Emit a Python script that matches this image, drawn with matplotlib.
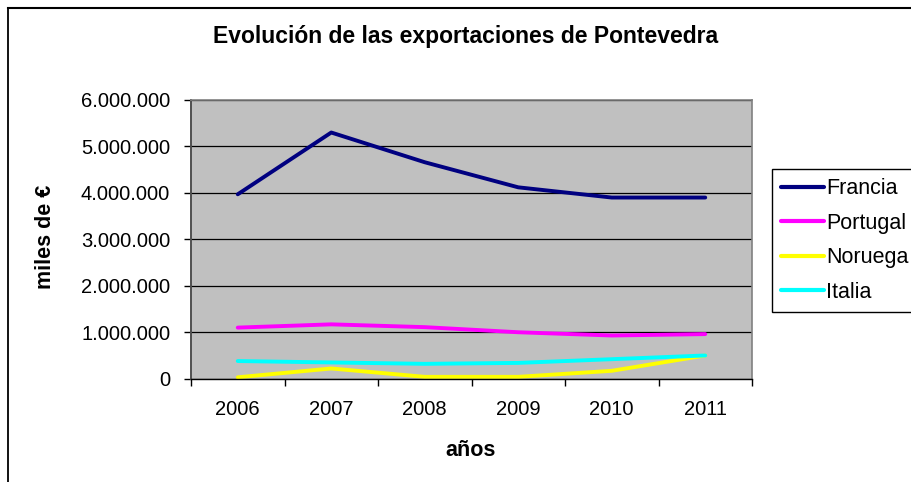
import matplotlib.pyplot as plt
from matplotlib.lines import Line2D
from matplotlib.ticker import FixedLocator, FuncFormatter

plt.rcParams['font.family'] = ['Liberation Sans', 'DejaVu Sans']

# datos
anios = ['2006', '2007', '2008', '2009', '2010', '2011']
francia = [3970000, 5300000, 4660000, 4120000, 3900000, 3900000]
portugal = [1100000, 1170000, 1110000, 1000000, 930000, 960000]
noruega = [30000, 220000, 40000, 40000, 170000, 500000]
italia = [380000, 350000, 320000, 340000, 420000, 500000]

W, H = 912, 482
fig = plt.figure(figsize=(W / 100, H / 100), dpi=100)

# marco exterior (solo arriba e izquierda, el resto queda fuera de la imagen)
fig.lines.append(Line2D([8 / W, 1.0], [1 - 7.5 / H, 1 - 7.5 / H], transform=fig.transFigure,
                        color='black', linewidth=1.5))
fig.lines.append(Line2D([8 / W, 8 / W], [0, 1 - 7.5 / H], transform=fig.transFigure,
                        color='black', linewidth=1.3))

ax = fig.add_axes([191 / W, (H - 378.7) / H, 561 / W, 278.7 / H])
ax.set_facecolor('#c0c0c0')

x = range(len(anios))
lw = 2.8
ax.plot(x, francia, color='#000080', linewidth=lw, label='Francia', solid_capstyle='round')
ax.plot(x, portugal, color='#ff00ff', linewidth=lw, label='Portugal', solid_capstyle='round')
ax.plot(x, noruega, color='#ffff00', linewidth=lw, label='Noruega', solid_capstyle='round')
ax.plot(x, italia, color='#00ffff', linewidth=lw, label='Italia', solid_capstyle='round')

ax.set_xlim(-0.5, len(anios) - 0.5)
ax.set_ylim(0, 6000000)
ax.set_yticks(range(0, 6000001, 1000000))
ax.yaxis.set_major_formatter(FuncFormatter(lambda v, p: '{:,.0f}'.format(v).replace(',', '.')))
ax.yaxis.grid(True, color='black', linewidth=0.9)
ax.set_axisbelow(True)

ax.set_xticks(list(x))
ax.set_xticklabels(anios)
ax.xaxis.set_minor_locator(FixedLocator([i - 0.5 for i in range(len(anios) + 1)]))
ax.tick_params(axis='x', which='major', length=0, pad=15, labelsize=14.5)
ax.tick_params(axis='x', which='minor', length=5, width=1, direction='out')
ax.tick_params(axis='y', length=5, width=1, direction='out', pad=10, labelsize=14.5)

for s in ['top', 'right']:
    ax.spines[s].set_color('#808080')
    ax.spines[s].set_linewidth(1.2)
ax.spines['left'].set_color('#505050')
ax.spines['left'].set_linewidth(1.4)
ax.spines['bottom'].set_color('black')
ax.spines['bottom'].set_linewidth(1.0)

fig.text(466 / W, 1 - 37 / H, 'Evolución de las exportaciones de Pontevedra',
         ha='center', va='center', fontsize=16.5, fontweight='bold')
fig.text(471 / W, 1 - 450 / H, 'años', ha='center', va='center', fontsize=15.5, fontweight='bold')
fig.text(46 / W, 1 - 237 / H, 'miles de €', ha='center', va='center', rotation=90,
         fontsize=15.5, fontweight='bold')

leg = fig.legend(loc='upper left', bbox_to_anchor=(771.7 / W, 1 - 169.3 / H),
                 bbox_transform=fig.transFigure, borderaxespad=0, fancybox=False,
                 edgecolor='black', framealpha=1, fontsize=15.5, handlelength=2.0,
                 handletextpad=0.12, labelspacing=0.63, borderpad=0.42)
leg.get_frame().set_linewidth(1.0)
for h in leg.get_lines():
    h.set_linewidth(3.0)

fig.savefig('out.png', dpi=100)
